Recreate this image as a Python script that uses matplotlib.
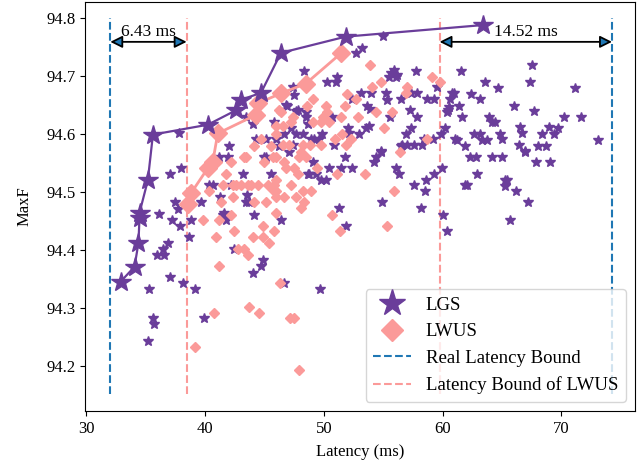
import matplotlib
matplotlib.use('Agg')
import matplotlib.pyplot as plt
from matplotlib.lines import Line2D

plt.rcParams['font.family'] = 'serif'
plt.rcParams['font.serif'] = ['Liberation Serif', 'DejaVu Serif']

PURPLE = '#6a3d9a'
PINK = '#fb9a99'
BLUE = '#1f77b4'

# Pareto fronts
lgs_front_lat = [32.88, 34.06, 34.39, 34.48, 34.48, 35.18, 35.61, 40.23, 42.61, 43.03, 44.71, 46.39, 51.85, 63.42]
lgs_front_f = [94.345, 94.371, 94.412, 94.455, 94.464, 94.520, 94.599, 94.616, 94.641, 94.659, 94.671, 94.740, 94.768, 94.788]
lwus_front_lat = [38.55, 38.82, 40.23, 40.65, 41.07, 44.29, 44.43, 46.39, 48.49, 51.43]
lwus_front_f = [94.480, 94.498, 94.541, 94.552, 94.601, 94.633, 94.653, 94.670, 94.687, 94.739]

# sampled sub-networks
lgs_lat = [37.08, 37.98, 36.16, 37.20, 37.92, 37.48, 37.71, 38.68, 36.92, 36.45,
           35.97, 36.53, 37.08, 38.13, 39.16, 35.32, 39.66, 38.82, 41.29, 41.62,
           41.76, 42.46, 44.85, 44.71, 44.01, 43.53, 43.72, 44.14, 43.17, 45.55,
           44.93, 41.91, 40.65, 35.61, 35.74, 35.18, 39.89, 49.69, 41.20, 45.13,
           47.08, 48.63, 40.36, 42.18, 43.45, 41.49, 46.39, 51.76, 54.37, 54.23,
           54.79, 49.13, 50.45, 51.49, 52.41, 48.76, 49.33, 49.75, 50.17, 56.05,
           56.33, 59.97, 59.27, 58.57, 57.59, 58.49, 61.93, 54.93, 58.15, 51.24,
           51.85, 60.06, 60.34, 46.66, 62.29, 62.86, 64.18, 65.02, 66.97, 67.90,
           69.08, 62.92, 62.02, 65.29, 65.44, 65.29, 66.22, 67.17, 65.71, 61.57,
           67.54, 67.34, 63.61, 64.65, 71.12, 60.95, 62.41, 60.67, 63.19, 61.37,
           60.45, 65.99, 67.73, 61.66, 63.89, 64.18, 64.45, 70.19, 71.66, 60.25,
           66.55, 68.93, 69.69, 62.63, 63.13, 64.87, 66.70, 68.38, 69.35, 61.18,
           63.34, 63.76, 65.02, 73.13, 61.93, 66.41, 66.97, 68.01, 68.74, 48.34,
           57.79, 50.31, 51.15, 51.01, 55.63, 55.91, 56.19, 52.69, 53.25, 55.02,
           47.37, 47.50, 53.11, 53.95, 55.21, 56.47, 57.31, 57.87, 58.71, 59.27,
           59.50, 60.82, 60.53, 60.39, 46.89, 47.79, 48.49, 48.49, 53.67, 53.89,
           55.57, 57.25, 57.87, 50.65, 52.04, 53.53, 53.81, 45.77, 46.66, 47.65,
           48.21, 49.18, 49.89, 50.87, 52.97, 57.31, 56.89, 56.61, 57.03, 57.59,
           58.29, 59.22, 59.89, 61.09, 55.49, 56.05, 55.35, 52.41, 52.13, 56.47,
           58.43, 54.79, 49.61, 48.91, 48.63, 46.81, 47.65, 43.45, 44.01, 47.23,
           44.29, 45.13, 45.97, 46.24, 47.37, 42.04, 37.84]
lgs_f = [94.531, 94.541, 94.462, 94.451, 94.441, 94.482, 94.471, 94.422, 94.412, 94.401,
         94.391, 94.391, 94.353, 94.343, 94.332, 94.332, 94.482, 94.452, 94.492, 94.463,
         94.452, 94.401, 94.383, 94.372, 94.361, 94.494, 94.482, 94.460, 94.531, 94.531,
         94.561, 94.561, 94.512, 94.282, 94.272, 94.243, 94.282, 94.332, 94.561, 94.561,
         94.569, 94.531, 94.512, 94.512, 94.482, 94.460, 94.451, 94.561, 94.561, 94.551,
         94.569, 94.551, 94.541, 94.541, 94.541, 94.531, 94.531, 94.521, 94.521, 94.541,
         94.531, 94.541, 94.531, 94.521, 94.512, 94.501, 94.512, 94.482, 94.472, 94.472,
         94.441, 94.460, 94.432, 94.343, 94.561, 94.561, 94.561, 94.561, 94.569, 94.551,
         94.551, 94.531, 94.512, 94.521, 94.521, 94.511, 94.501, 94.482, 94.452, 94.709,
         94.719, 94.690, 94.690, 94.679, 94.679, 94.670, 94.669, 94.660, 94.660, 94.648,
         94.641, 94.648, 94.640, 94.630, 94.630, 94.620, 94.620, 94.630, 94.630, 94.610,
         94.612, 94.612, 94.610, 94.600, 94.600, 94.600, 94.601, 94.600, 94.600, 94.590,
         94.590, 94.590, 94.591, 94.590, 94.579, 94.581, 94.571, 94.579, 94.579, 94.709,
         94.709, 94.690, 94.699, 94.690, 94.705, 94.710, 94.702, 94.739, 94.749, 94.769,
         94.681, 94.667, 94.670, 94.670, 94.670, 94.660, 94.670, 94.670, 94.660, 94.660,
         94.681, 94.670, 94.647, 94.638, 94.648, 94.641, 94.638, 94.630, 94.648, 94.643,
         94.630, 94.641, 94.630, 94.630, 94.610, 94.610, 94.613, 94.620, 94.600, 94.600,
         94.600, 94.591, 94.600, 94.581, 94.600, 94.610, 94.600, 94.581, 94.581, 94.581,
         94.581, 94.591, 94.600, 94.591, 94.699, 94.699, 94.659, 94.660, 94.602, 94.579,
         94.591, 94.571, 94.591, 94.591, 94.618, 94.650, 94.640, 94.630, 94.618, 94.610,
         94.591, 94.591, 94.591, 94.579, 94.581, 94.579, 94.601]

lwus_lat = [39.81, 40.92, 41.15, 41.34, 42.33, 42.46, 42.75, 43.25, 43.59, 44.01,
            44.85, 45.40, 44.85, 44.14, 45.13, 45.97, 45.82, 41.20, 46.33, 41.76,
            42.18, 43.30, 44.93, 45.97, 41.49, 42.33, 43.03, 43.87, 44.43, 45.27,
            45.69, 40.73, 43.72, 44.56, 47.17, 47.50, 39.18, 47.92, 43.45, 45.69,
            46.66, 47.50, 47.92, 47.79, 42.61, 43.59, 45.82, 47.23, 45.97, 40.36,
            45.97, 47.65, 48.21, 48.07, 48.34, 42.18, 48.07, 48.49, 51.15, 53.47,
            49.41, 46.81, 45.97, 48.91, 46.66, 50.67, 51.37, 55.29, 55.91, 56.41,
            53.89, 54.79, 54.09, 57.03, 56.89, 59.13, 59.77, 49.13, 51.99, 51.76,
            52.69, 54.37, 52.88, 51.43, 50.17, 50.31, 49.97, 48.57, 46.39, 47.23,
            49.13, 49.75, 50.45, 55.07, 51.57, 52.27, 51.85, 50.92, 49.75, 48.85,
            48.21, 47.08, 46.53, 45.97, 58.71, 55.71, 46.24, 47.37, 45.97, 44.71,
            46.53, 44.14, 45.55]
lwus_f = [94.452, 94.422, 94.452, 94.482, 94.492, 94.432, 94.401, 94.401, 94.391, 94.422,
          94.422, 94.412, 94.441, 94.482, 94.482, 94.463, 94.432, 94.372, 94.343, 94.531,
          94.551, 94.561, 94.551, 94.561, 94.512, 94.512, 94.512, 94.512, 94.512, 94.512,
          94.503, 94.292, 94.302, 94.292, 94.282, 94.282, 94.232, 94.193, 94.561, 94.561,
          94.551, 94.541, 94.561, 94.531, 94.512, 94.512, 94.512, 94.512, 94.501, 94.501,
          94.492, 94.492, 94.501, 94.472, 94.482, 94.460, 94.569, 94.560, 94.531, 94.531,
          94.541, 94.541, 94.521, 94.501, 94.492, 94.460, 94.432, 94.441, 94.501, 94.569,
          94.719, 94.690, 94.681, 94.681, 94.670, 94.699, 94.690, 94.660, 94.669, 94.648,
          94.660, 94.638, 94.630, 94.630, 94.648, 94.638, 94.630, 94.648, 94.638, 94.620,
          94.620, 94.620, 94.620, 94.610, 94.600, 94.591, 94.581, 94.591, 94.581, 94.581,
          94.581, 94.581, 94.581, 94.600, 94.591, 94.638, 94.641, 94.630, 94.613, 94.591,
          94.613, 94.579, 94.579]

# latency bounds
real_bounds = [32.02, 74.27]
lwus_bounds = [38.45, 59.75]
bound_ymin, bound_ymax = 94.152, 94.80
arrow_y = 94.759

fig = plt.figure(figsize=(6.4, 4.65), dpi=100)
ax = fig.add_axes([0.133, 0.116, 0.859, 0.880])

ax.plot(lgs_lat, lgs_f, '*', color=PURPLE, markersize=7.5, linestyle='none', zorder=2)
ax.plot(lwus_lat, lwus_f, 'D', color=PINK, markersize=4.6, linestyle='none', zorder=2)
ax.plot(lwus_front_lat, lwus_front_f, '-D', color=PINK, markersize=9.5, lw=2, zorder=3)
ax.plot(lgs_front_lat, lgs_front_f, '-*', color=PURPLE, markersize=15, lw=1.6, zorder=4)

for b in real_bounds:
    ax.vlines(b, bound_ymin, bound_ymax, colors=BLUE, linestyles='--', lw=1.5, zorder=1)
for b in lwus_bounds:
    ax.vlines(b, bound_ymin, bound_ymax, colors=PINK, linestyles='--', lw=1.5, zorder=1)

arrow_kw = dict(arrowstyle='<|-|>', fc=BLUE, ec='black', lw=1.3, mutation_scale=18,
                shrinkA=0, shrinkB=0)
ax.annotate('', xy=(real_bounds[0], arrow_y), xytext=(lwus_bounds[0], arrow_y),
            arrowprops=arrow_kw)
ax.annotate('', xy=(lwus_bounds[1], arrow_y), xytext=(real_bounds[1], arrow_y),
            arrowprops=arrow_kw)
ax.text((real_bounds[0] + lwus_bounds[0]) / 2, arrow_y + 0.003,
        f'{lwus_bounds[0] - real_bounds[0]:.2f} ms', ha='center', va='bottom', fontsize=12.5)
ax.text((real_bounds[1] + lwus_bounds[1]) / 2, arrow_y + 0.003,
        f'{real_bounds[1] - lwus_bounds[1]:.2f} ms', ha='center', va='bottom', fontsize=12.5)

ax.set_xlim(29.9, 76.2)
ax.set_ylim(94.122, 94.828)
ax.set_xticks([30, 40, 50, 60, 70])
ax.set_yticks([94.2, 94.3, 94.4, 94.5, 94.6, 94.7, 94.8])
ax.tick_params(labelsize=12)
ax.set_xlabel('Latency (ms)', fontsize=12, labelpad=5)
ax.set_ylabel('MaxF', fontsize=12, labelpad=10)

handles = [
    Line2D([], [], marker='*', color=PURPLE, linestyle='none', markersize=20, label='LGS'),
    Line2D([], [], marker='D', color=PINK, linestyle='none', markersize=11, label='LWUS'),
    Line2D([], [], color=BLUE, linestyle='--', lw=1.5, label='Real Latency Bound'),
    Line2D([], [], color=PINK, linestyle='--', lw=1.5, label='Latency Bound of LWUS'),
]
ax.legend(handles=handles, loc='lower right', fontsize=13.5)

fig.savefig('out.png', dpi=100)
